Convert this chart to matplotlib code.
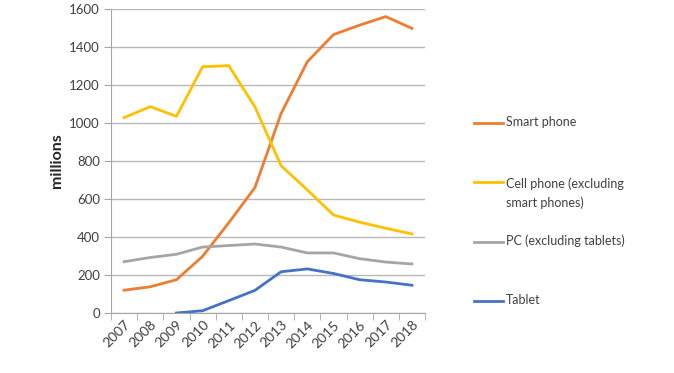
import numpy as np
import matplotlib.pyplot as plt
from matplotlib.lines import Line2D

years = [str(y) for y in range(2007, 2019)]
smart_phone = [120, 138, 175, 298, 475, 660, 1050, 1322, 1465, 1515, 1560, 1498]
cell_phone = [1028, 1086, 1035, 1296, 1302, 1085, 775, 648, 516, 478, 446, 416]
pc = [270, 292, 309, 347, 355, 363, 347, 316, 316, 286, 268, 258]
tablet = [np.nan, np.nan, 0, 12, 65, 119, 217, 232, 208, 175, 163, 146]

series_names = ["Smart phone", "Cell phone (excluding\nsmart phones)",
                "PC (excluding tablets)", "Tablet"]
series_values = [smart_phone, cell_phone, pc, tablet]
colors = ["#ED7D31", "#FFC000", "#A5A5A5", "#4472C4"]

plt.rcParams["font.family"] = ["Lato", "DejaVu Sans"]

fig = plt.figure(figsize=(6.74, 3.73), dpi=100)
ax = fig.add_axes([0.1647, 0.1609, 0.4659, 0.815])

x = np.arange(len(years))
for vals, c in zip(series_values, colors):
    ax.plot(x, vals, color=c, linewidth=2, solid_joinstyle="round")

ax.set_xlim(-0.5, len(years) - 0.5)
ax.set_ylim(0, 1600)
ax.set_yticks(range(0, 1601, 200))
ax.grid(axis="y", color="#B8B8B8", linewidth=1)
ax.set_axisbelow(True)

ax.set_xticks(x)
ax.set_xticklabels(years, rotation=45, ha="right", rotation_mode="anchor",
                   fontsize=10, color="#404040")
ax.tick_params(axis="x", length=0, pad=4)
ax.set_xticks(np.arange(-0.5, len(years)), minor=True)
ax.tick_params(axis="x", which="minor", length=5, color="#A6A6A6")
ax.tick_params(axis="y", length=5, color="#A6A6A6", labelsize=9.5,
               labelcolor="#404040", pad=3)

for s in ["top", "right"]:
    ax.spines[s].set_visible(False)
ax.spines["left"].set_color("#A6A6A6")
ax.spines["bottom"].set_color("#A6A6A6")

ax.set_ylabel("millions", fontsize=11.5, fontweight="bold", color="#262626", labelpad=4)

# legend
legend_y = [123, 182, 242, 301]
for name, c, yp in zip(series_names, colors, legend_y):
    fy = 1 - yp / 373
    fig.add_artist(Line2D([474 / 674, 503 / 674], [fy, fy], color=c, linewidth=2,
                          transform=fig.transFigure))
    if "\n" in name:
        fig.text(506 / 674, fy + 0.012, name, fontsize=9, color="#404040",
                 va="top", linespacing=1.6)
    else:
        fig.text(506 / 674, fy + 0.003, name, fontsize=9, color="#404040",
                 va="center")

fig.savefig("out.png", dpi=100)
